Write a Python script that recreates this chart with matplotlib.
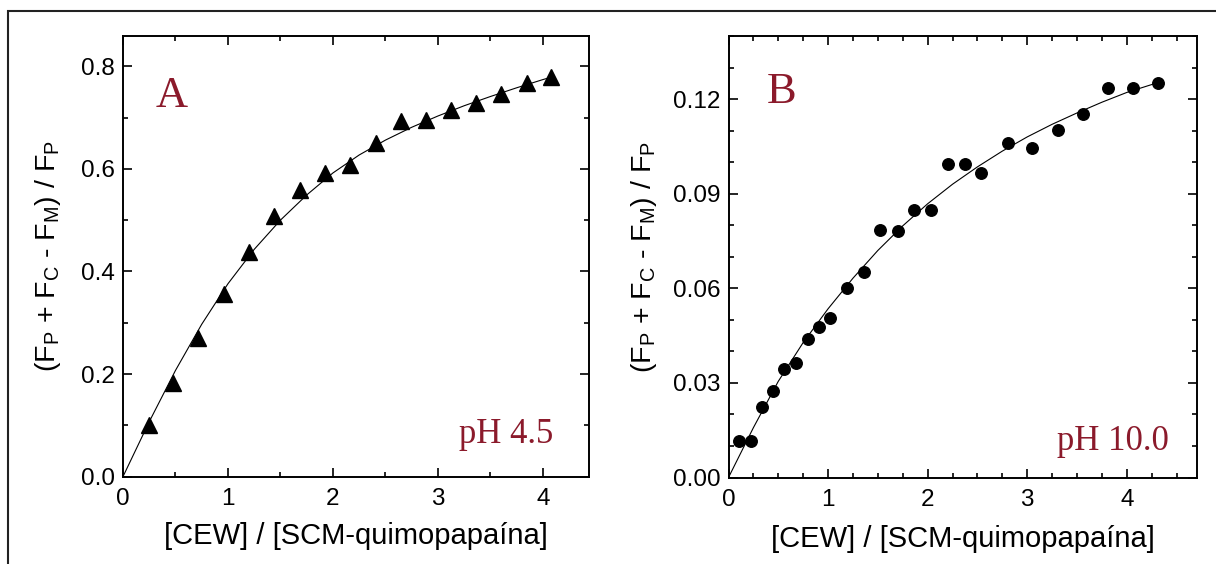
import matplotlib
matplotlib.use("Agg")
import matplotlib.pyplot as plt
from matplotlib.ticker import MultipleLocator, FormatStrFormatter
from matplotlib.patches import Rectangle

# ---------------- data ----------------
# Panel A, pH 4.5 (triangles)
xa = [0.244, 0.481, 0.718, 0.966, 1.200, 1.440, 1.685, 1.921, 2.166,
      2.407, 2.644, 2.888, 3.125, 3.362, 3.599, 3.847, 4.080]
ya = [0.100, 0.182, 0.270, 0.356, 0.438, 0.508, 0.559, 0.591, 0.608,
      0.651, 0.694, 0.696, 0.715, 0.728, 0.745, 0.768, 0.780]
# fitted curve, panel A
fit_xa = [0.0, 0.25, 0.5, 0.75, 1.0, 1.25, 1.5, 1.75, 2.0, 2.25, 2.5,
          2.75, 3.0, 3.25, 3.5, 3.75, 4.0, 4.1]
fit_ya = [0.0, 0.107, 0.207, 0.297, 0.376, 0.443, 0.500, 0.549, 0.592,
          0.627, 0.656, 0.681, 0.703, 0.723, 0.741, 0.758, 0.774, 0.780]

# Panel B, pH 10.0 (circles)
xb = [0.107, 0.221, 0.332, 0.447, 0.561, 0.680, 0.798, 0.909, 1.024,
      1.194, 1.364, 1.526, 1.700, 1.866, 2.036, 2.209, 2.379, 2.538,
      2.802, 3.051, 3.308, 3.565, 3.814, 4.067, 4.316]
yb = [0.0117, 0.0117, 0.0222, 0.0275, 0.0344, 0.0362, 0.0439, 0.0476,
      0.0507, 0.0602, 0.0651, 0.0784, 0.0782, 0.0847, 0.0847, 0.0994,
      0.0994, 0.0965, 0.1062, 0.1044, 0.1102, 0.1153, 0.1236, 0.1234,
      0.1251]
fit_xb = [0.0, 0.25, 0.5, 0.75, 1.0, 1.25, 1.5, 1.75, 2.0, 2.25, 2.5,
          2.75, 3.0, 3.25, 3.5, 3.75, 4.0, 4.32]
fit_yb = [0.0, 0.0158, 0.0305, 0.0428, 0.0535, 0.0632, 0.0720, 0.0798,
          0.0868, 0.0930, 0.0985, 0.1035, 0.1080, 0.1120, 0.1156, 0.1190,
          0.1221, 0.1253]

xticks_a = [0, 1, 2, 3, 4]
yticks_a = [0.0, 0.2, 0.4, 0.6, 0.8]
xticks_b = [0, 1, 2, 3, 4]
yticks_b = [0.00, 0.03, 0.06, 0.09, 0.12]

xlabel = "[CEW] / [SCM-quimopapaína]"
ylabel = ("(F$_\\mathregular{P}$ + F$_\\mathregular{C}$ - "
          "F$_\\mathregular{M}$) / F$_\\mathregular{P}$")
panel_letters = ["A", "B"]
ph_labels = ["pH 4.5", "pH 10.0"]

# ---------------- style ----------------
plt.rcParams['font.family'] = ['Liberation Sans', 'DejaVu Sans']
plt.rcParams['mathtext.fontset'] = 'custom'
plt.rcParams['mathtext.rm'] = 'Liberation Sans'
plt.rcParams['mathtext.it'] = 'Liberation Sans'
dark_red = '#8b1a2b'
W, H = 1216, 564
fig = plt.figure(figsize=(W / 100, H / 100), dpi=100)

# outer frame (top and left visible)
fig.patches.append(Rectangle((7.5 / W, -0.1), 1.2, (H - 11) / H + 0.1,
                             transform=fig.transFigure, fill=False,
                             edgecolor='#222222', linewidth=1.5))

axA = fig.add_axes([123 / W, (H - 476.6) / H, 466 / W, 441.1 / H])
axB = fig.add_axes([728.5 / W, (H - 477.5) / H, 468 / W, 441.5 / H])


def style(ax, xmax, ymax, xminor, yminor, xticks, yticks, yfmt):
    ax.set_xlim(0, xmax)
    ax.set_ylim(0, ymax)
    ax.set_xticks(xticks)
    ax.set_yticks(yticks)
    ax.xaxis.set_minor_locator(MultipleLocator(xminor))
    ax.yaxis.set_minor_locator(MultipleLocator(yminor))
    ax.yaxis.set_major_formatter(FormatStrFormatter(yfmt))
    ax.tick_params(which='both', direction='in', top=True, right=True,
                   width=1.2, labelsize=17.5, colors='black')
    ax.tick_params(which='major', length=6.5)
    ax.tick_params(axis='x', which='major', pad=8)
    ax.tick_params(axis='y', which='major', pad=6)
    ax.tick_params(which='minor', length=3.5)
    for s in ax.spines.values():
        s.set_linewidth(1.4)
    ax.set_xlabel(xlabel, fontsize=21)
    ax.set_ylabel(ylabel, fontsize=20.5)


# Panel A
axA.plot(fit_xa, fit_ya, color='black', lw=0.8, zorder=2)
axA.plot(xa, ya, linestyle='none', marker='^', markersize=11,
         color='black', zorder=3)
style(axA, 4.44, 0.86, 0.5, 0.1, xticks_a, yticks_a, '%.1f')
axA.xaxis.set_label_coords(0.5, -0.103)
axA.yaxis.set_label_coords(-0.129, 0.5)
axA.text(0.069, 0.838, panel_letters[0], transform=axA.transAxes,
         fontsize=32, family='Liberation Serif', color=dark_red,
         ha='left', va='baseline')
axA.text(0.923, 0.076, ph_labels[0], transform=axA.transAxes,
         fontsize=25, family='Liberation Serif', color=dark_red,
         ha='right', va='baseline')

# Panel B
axB.plot(fit_xb, fit_yb, color='black', lw=0.8, zorder=2)
axB.plot(xb, yb, linestyle='none', marker='o', markersize=8.3,
         color='black', zorder=3)
style(axB, 4.70, 0.14, 0.25, 0.01, xticks_b, yticks_b, '%.2f')
axB.xaxis.set_label_coords(0.5, -0.107)
axB.yaxis.set_label_coords(-0.1485, 0.5)
axB.text(0.082, 0.848, panel_letters[1], transform=axB.transAxes,
         fontsize=32, family='Liberation Serif', color=dark_red,
         ha='left', va='baseline')
axB.text(0.94, 0.062, ph_labels[1], transform=axB.transAxes,
         fontsize=25, family='Liberation Serif', color=dark_red,
         ha='right', va='baseline')

fig.savefig('out.png', dpi=100)
